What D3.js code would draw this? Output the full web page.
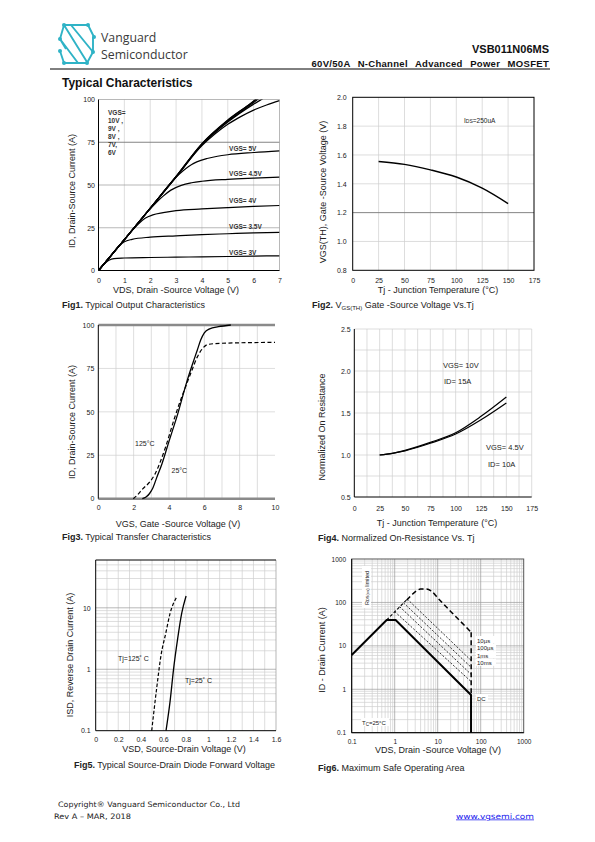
<!DOCTYPE html>
<html><head><meta charset="utf-8">
<script src="https://cdn.jsdelivr.net/npm/d3@7"></script>
<style>body{margin:0;background:#fff}svg{display:block}text{font-family:Arial,"Liberation Sans",sans-serif;fill:#222}</style>
</head><body><svg id="c" width="595" height="842"></svg>
<script>
// ---------- DATA ----------
// Fig1 output characteristics: [VDS, ID]
const out10V = [[0,0],[1,18],[2,36.5],[3,55],[4,74.2],[5,88],[6,99.2],[6.1,100.5]];
const out9V  = [[0,0],[1,18],[2,36.5],[3,55],[4,74],[5,87.7],[6,98.8],[6.15,100.5]];
const out8V  = [[0,0],[1,18],[2,36.4],[3,54.8],[4,73.8],[5,87.3],[6,98.2],[6.2,100.5]];
const out7V  = [[0,0],[1,18],[2,36.3],[3,54.6],[4,73.5],[5,86.8],[6,97.3],[6.35,100.5]];
const out6V  = [[0,0],[1,18],[2,36.3],[3,54.6],[4,73],[4.5,79.8],[5,85.5],[5.5,90],[6,93.8],[6.5,96.8],[7,99.3]];
const out5V  = [[0,0],[1,18],[2,36.3],[3,54.6],[3.5,61],[3.8,63.5],[4.2,65.5],[4.6,66.8],[5,67.7],[6,69],[7,70]];
const out45V = [[0,0],[1,18],[2,36],[2.5,43.5],[2.8,47],[3.2,49.8],[3.6,51.3],[4,52.2],[5,53.3],[6,54],[7,54.6]];
const out4V  = [[0,0],[1,18],[1.5,26.5],[1.8,30.5],[2.1,32.5],[2.5,33.8],[3,35],[4,36],[5,36.8],[6,37.5],[7,38]];
const out35V = [[0,0],[0.5,9],[0.8,14.5],[1,16.8],[1.3,18.2],[2,19.5],[3,20.3],[4,21],[5,21.5],[6,22],[7,22.3]];
const out3V  = [[0,0],[0.2,3.6],[0.4,6],[0.6,7],[1,7.3],[2,7.6],[3,7.8],[4,8],[5,8.2],[6,8.4],[7,8.6]];
const outCurves = [out10V,out9V,out8V,out7V,out6V,out5V,out45V,out4V,out35V,out3V];
const outLabels = ["VGS= 5V","VGS= 4.5V","VGS= 4V","VGS= 3.5V","VGS= 3V"];
const outLabelVals = [71.3,57,41.1,26,10.6];
const outHiLabels = ["VGS=","10V ,","9V ,","8V ,","7V,","6V"];
const xTicks1 = [0,1,2,3,4,5,6,7];
const yTicks1 = [0,25,50,75,100];

// Fig2 VGS(th) vs Tj
const vthData = [[25,1.555],[50,1.535],[75,1.497],[100,1.447],[125,1.37],[150,1.263]];
const xTicks2 = [0,25,50,75,100,125,150,175];
const yTicks2 = [0.8,1.0,1.2,1.4,1.6,1.8,2.0];

// Fig3 transfer characteristics: [VGS, ID]
const tr25  = [[2.49,0],[2.7,1],[2.9,3],[3.1,6.5],[3.3,12],[3.6,20],[4,33],[4.5,49],[5,67],[5.3,76.5],[5.6,85.5],[5.8,91.5],[6,95.5],[6.3,97.8],[6.8,99],[7.5,100]];
const tr125 = [[1.98,0],[2.2,2],[2.5,5.5],[2.9,9.5],[3.2,14],[3.5,21],[3.8,29.5],[4.3,46],[4.7,58],[5,66],[5.3,74],[5.6,81.5],[5.9,86.5],[6.2,88.8],[7,89.5],[10,90]];
const xTicks3 = [0,2,4,6,8,10];
const yTicks3 = [0,25,50,75,100];

// Fig4 normalized RDS(on) vs Tj
const rds10V  = [[25,1.0],[37.5,1.02],[50,1.055],[75,1.15],[100,1.265],[125,1.46],[150,1.69]];
const rds45V  = [[25,1.0],[37.5,1.02],[50,1.05],[75,1.14],[100,1.25],[125,1.42],[150,1.62]];
const xTicks4 = [0,25,50,75,100,125,150,175];
const yTicks4 = [0.5,1.0,1.5,2.0,2.5];

// Fig5 diode forward: [VSD, ISD]
const diode25  = [[0.624,0.1],[0.66,0.3],[0.69,0.97],[0.728,3.2],[0.763,8.1],[0.802,15.6]];
const diode125 = [[0.497,0.1],[0.541,0.49],[0.58,1.7],[0.621,3.8],[0.66,8.1],[0.719,15]];
const xTicks5 = [0,0.2,0.4,0.6,0.8,1,1.2,1.4,1.6];
const yTicks5 = [0.1,1,10];

// Fig6 SOA: [VDS, ID]
const soaDC   = [[0.1,6.15],[0.65,39.5],[1.05,39.5],[59.6,0.74],[59.6,0.1]];
const soaRds  = [[0.65,39.5],[1.95,118]];
const soaPeak = [[1.9,113],[2.5,150],[3.2,185],[4,203],[5.5,203],[7,185],[10,127],[20,62],[40,31],[60,20.5],[60,0.74]];
const soaP1 = [[1.0,61.5],[60,1.5]];
const soaP2 = [[1.3,80],[60,2.2]];
const soaP3 = [[1.6,98],[60,3.2]];
const soaP4 = [[1.95,120],[60,4.6]];
const soaLabels = ["10µs","100µs","1ms","10ms"];
const xTicks6 = [0.1,1,10,100,1000];
const yTicks6 = [0.1,1,10,100,1000];

// ---------- DRAW ----------
const svg = d3.select('#c');
const LIGHT = '#cfcfcf', MID = '#9a9a9a';

function txt(g, x, y, s, o={}) {
  const t = g.append('text').attr('x',x).attr('y',y).text(s)
    .attr('font-size', o.size||8);
  if (o.anchor) t.attr('text-anchor', o.anchor);
  if (o.weight) t.attr('font-weight', o.weight);
  if (o.fill) t.style('fill', o.fill);
  if (o.family) t.style('font-family', o.family);
  return t;
}
function vline(g,x,y0,y1,c,w=0.7){g.append('line').attr('x1',x).attr('x2',x).attr('y1',y0).attr('y2',y1).attr('stroke',c).attr('stroke-width',w);}
function hline(g,y,x0,x1,c,w=0.7){g.append('line').attr('y1',y).attr('y2',y).attr('x1',x0).attr('x2',x1).attr('stroke',c).attr('stroke-width',w);}
function axes(g, x, y, xt, yt, xfmt, yfmt, xpad, ypad, fs) {
  const ax = g.append('g').attr('transform',`translate(0,${y.range()[0]})`)
    .call(d3.axisBottom(x).tickValues(xt).tickSize(0).tickPadding(xpad).tickFormat(xfmt));
  ax.select('.domain').remove();
  ax.selectAll('text').attr('font-size',fs).attr('font-family','Arial, Liberation Sans, sans-serif').style('fill','#222');
  const ay = g.append('g').attr('transform',`translate(${x.range()[0]},0)`)
    .call(d3.axisLeft(y).tickValues(yt).tickSize(0).tickPadding(ypad).tickFormat(yfmt));
  ay.select('.domain').remove();
  ay.selectAll('text').attr('font-size',fs).attr('font-family','Arial, Liberation Sans, sans-serif').style('fill','#222');
}
function ylabel(g, x, y, s, fs=9){ g.append('text').attr('transform',`translate(${x},${y}) rotate(-90)`).attr('text-anchor','middle').attr('font-size',fs).text(s); }
function caption(g, x, y, bold, rest){
  const t = g.append('text').attr('x',x).attr('y',y).attr('font-size',9);
  t.append('tspan').attr('font-weight','bold').text(bold);
  t.append('tspan').text(rest);
  return t;
}
function clip(id, x, y){
  svg.append('clipPath').attr('id',id).append('rect')
    .attr('x',x.range()[0]).attr('y',y.range()[1]).attr('width',x.range()[1]-x.range()[0]).attr('height',y.range()[0]-y.range()[1]);
}

// ----- Header -----
const hd = svg.append('g');
const logoC = '#2fb3c6';
const lg = hd.append('g').attr('fill','none').attr('stroke',logoC).attr('stroke-width',1.9).attr('stroke-linejoin','round');
lg.append('path').attr('d','M64,25 H88 L94,37 M64,25 L60,39 L66,49 M64,25 L87,62 M71,25 L93,52 M60,39 L78,63 M60,51 L64,63 H87 L93,52 V37');
[[64,25],[88,25],[94,37],[60,39],[60,51],[64,63],[87,63],[93,52]].forEach(p=>{
  hd.append('circle').attr('cx',p[0]).attr('cy',p[1]).attr('r',2).attr('fill',logoC);
});
txt(hd,101,41.5,'Vanguard',{size:12.3,family:'"Open Sans", Arial, sans-serif',fill:'#3a3a3a'});
txt(hd,101,58.5,'Semiconductor',{size:12.3,family:'"Open Sans", Arial, sans-serif',fill:'#3a3a3a'});
txt(hd,549,53,'VSB011N06MS',{size:11,weight:'bold',anchor:'end',fill:'#111'});
txt(hd,549,66.5,'60V/50A N-Channel Advanced Power MOSFET',{size:9.5,weight:'bold',anchor:'end',fill:'#111'})
  .style('word-spacing','4.5px').style('letter-spacing','0.3px');
hline(hd,69,50,550,'#000',1);
txt(hd,62,86.5,'Typical Characteristics',{size:12,weight:'bold',fill:'#111'});

// ----- Fig1 -----
{
  const g = svg.append('g');
  const x = d3.scaleLinear([0,7],[98.5,279.5]);
  const y = d3.scaleLinear([0,100],[270.5,99.5]);
  clip('c1',x,y);
  xTicks1.slice(1,-1).forEach(v=>vline(g,x(v),y(0),y(100),LIGHT));
  [25,50].forEach(v=>hline(g,y(v),x(0),x(7),MID));
  hline(g,y(75),x(0),x(7),'#777',0.9);
  hline(g,y(100),x(0),x(7),MID); vline(g,x(7),y(0),y(100),MID);
  vline(g,x(0),y(0),y(100),'#000',1); hline(g,y(0),x(0),x(7),'#000',1);
  const line = d3.line().x(d=>x(d[0])).y(d=>y(d[1])).curve(d3.curveMonotoneX);
  g.append('g').attr('clip-path','url(#c1)').selectAll('path').data(outCurves).join('path')
    .attr('d',line).attr('fill','none').attr('stroke','#000').attr('stroke-width',1.2);
  axes(g,x,y,xTicks1,yTicks1,d3.format('d'),d3.format('d'),7.5,3.5,7);
  outLabels.forEach((s,i)=>txt(g,x(5.05),y(outLabelVals[i])+2.5,s,{size:6.5,weight:'bold',fill:'#333'}));
  outHiLabels.forEach((s,i)=>txt(g,108,115+i*8,s,{size:6.5,weight:'bold',fill:'#333'}));
  txt(g,176,293,'VDS, Drain -Source Voltage (V)',{size:9,anchor:'middle'});
  ylabel(g,75,191,'ID, Drain-Source Current (A)');
  caption(g,62,307.5,'Fig1.',' Typical Output Characteristics');
}

// ----- Fig2 -----
{
  const g = svg.append('g');
  const x = d3.scaleLinear([0,175],[352.7,534]);
  const y = d3.scaleLinear([0.8,2.0],[270.3,97.3]);
  xTicks2.slice(1,-1).forEach(v=>vline(g,x(v),y(0.8),y(2.0),LIGHT));
  [1.0,1.4,1.6,1.8].forEach(v=>hline(g,y(v),x(0),x(175),LIGHT));
  hline(g,y(1.2),x(0),x(175),'#777',0.9);
  g.append('rect').attr('x',x(0)).attr('y',y(2)).attr('width',x(175)-x(0)).attr('height',y(0.8)-y(2))
    .attr('fill','none').attr('stroke','#000').attr('stroke-width',1);
  const line = d3.line().x(d=>x(d[0])).y(d=>y(d[1])).curve(d3.curveMonotoneX);
  g.append('path').datum(vthData).attr('d',line).attr('fill','none').attr('stroke','#000').attr('stroke-width',1.4);
  axes(g,x,y,xTicks2,yTicks2,d3.format('d'),d3.format('.1f'),7.7,6,7);
  const t = g.append('text').attr('x',464).attr('y',123).attr('font-size',6.5);
  t.append('tspan').text('I'); t.append('tspan').attr('font-size',5).text('DS'); t.append('tspan').text('=250uA');
  txt(g,438,293,'Tj - Junction Temperature (°C)',{size:9,anchor:'middle'});
  ylabel(g,326,192,'VGS(TH), Gate -Source Voltage (V)');
  const c = g.append('text').attr('x',312).attr('y',308).attr('font-size',9);
  c.append('tspan').attr('font-weight','bold').text('Fig2.');
  c.append('tspan').text(' V');
  c.append('tspan').attr('font-size',6).attr('dy',1.5).text('GS(TH)');
  c.append('tspan').attr('dy',-1.5).text(' Gate -Source Voltage Vs.Tj');
}

// ----- Fig3 -----
{
  const g = svg.append('g');
  const x = d3.scaleLinear([0,10],[98.3,275]);
  const y = d3.scaleLinear([0,100],[498.7,325]);
  d3.range(1,10).forEach(v=>vline(g,x(v),y(0),y(100),LIGHT));
  [25,50,75].forEach(v=>hline(g,y(v),x(0),x(10),LIGHT));
  hline(g,y(100),x(0),x(10),'#8a8a8a',2.5);
  hline(g,y(0),x(0),x(10),'#8a8a8a',2.5);
  vline(g,x(0),y(0),y(100),'#000',1);
  const line = d3.line().x(d=>x(d[0])).y(d=>y(d[1])).curve(d3.curveMonotoneX);
  g.append('path').datum(tr25).attr('d',line).attr('fill','none').attr('stroke','#000').attr('stroke-width',1.3);
  g.append('path').datum(tr125).attr('d',line).attr('fill','none').attr('stroke','#000').attr('stroke-width',1.2).attr('stroke-dasharray','4,2.5');
  axes(g,x,y,xTicks3,yTicks3,d3.format('d'),d3.format('d'),6.3,4,7);
  txt(g,135,446,'125°C',{size:7});
  txt(g,171.5,472.5,'25°C',{size:7});
  txt(g,178,527,'VGS, Gate -Source Voltage (V)',{size:9,anchor:'middle'});
  ylabel(g,75,422,'ID, Drain-Source Current (A)');
  caption(g,62,540,'Fig3.',' Typical Transfer Characteristics');
}

// ----- Fig4 -----
{
  const g = svg.append('g');
  const x = d3.scaleLinear([0,175],[354.3,531.7]);
  const y = d3.scaleLinear([0.5,2.5],[497,329]);
  d3.range(1,14).forEach(i=>vline(g,x(i*12.5),y(0.5),y(2.5),LIGHT));
  d3.range(1,8).forEach(i=>hline(g,y(0.5+i*0.25),x(0),x(175),LIGHT));
  hline(g,y(2.5),x(0),x(175),LIGHT); vline(g,x(175),y(0.5),y(2.5),LIGHT);
  vline(g,x(0),y(0.5),y(2.5),'#000',1); hline(g,y(0.5),x(0),x(175),'#000',1);
  const line = d3.line().x(d=>x(d[0])).y(d=>y(d[1])).curve(d3.curveMonotoneX);
  [rds10V,rds45V].forEach(d=>g.append('path').datum(d).attr('d',line).attr('fill','none').attr('stroke','#000').attr('stroke-width',1.2));
  axes(g,x,y,xTicks4,yTicks4,d3.format('d'),d3.format('.1f'),9,3.6,7);
  txt(g,443,367.5,'VGS= 10V',{size:7.5});
  txt(g,444,384,'ID= 15A',{size:7.5});
  txt(g,486,450,'VGS= 4.5V',{size:7.5});
  txt(g,488,466.5,'ID= 10A',{size:7.5});
  txt(g,437,526,'Tj - Junction Temperature (°C)',{size:9,anchor:'middle'});
  ylabel(g,325,427,'Normalized On  Resistance');
  caption(g,318,540.5,'Fig4.',' Normalized On-Resistance Vs. Tj');
}

// ----- Fig5 -----
{
  const g = svg.append('g');
  const x = d3.scaleLinear([0,1.6],[95.7,276]);
  const y = d3.scaleLog([0.1,60],[730.7,560]);
  d3.range(1,16).forEach(i=>vline(g,x(i*0.1),y(0.1),y(60),LIGHT));
  const minors = [];
  [0.1,1,10].forEach(dec=>d3.range(2,10).forEach(k=>{ if (k*dec<60) minors.push(k*dec); }));
  minors.forEach(v=>hline(g,y(v),x(0),x(1.6),LIGHT));
  [1,10].forEach(v=>hline(g,y(v),x(0),x(1.6),MID));
  vline(g,x(1.6),y(0.1),y(60),MID);
  hline(g,y(60),x(0),x(1.6),'#000',1);
  vline(g,x(0),y(0.1),y(60),'#000',1); hline(g,y(0.1),x(0),x(1.6),'#000',1);
  const line = d3.line().x(d=>x(d[0])).y(d=>y(d[1])).curve(d3.curveMonotoneX);
  g.append('path').datum(diode25).attr('d',line).attr('fill','none').attr('stroke','#000').attr('stroke-width',1.3);
  g.append('path').datum(diode125).attr('d',line).attr('fill','none').attr('stroke','#000').attr('stroke-width',1.2).attr('stroke-dasharray','3.5,2');
  axes(g,x,y,xTicks5,yTicks5,d3.format('~g'),d3.format('~g'),6.3,5,7);
  txt(g,118,661,'Tj=125˚ C',{size:7});
  txt(g,185,683,'Tj=25˚ C',{size:7});
  txt(g,184,752,'VSD, Source-Drain Voltage (V)',{size:9,anchor:'middle'});
  ylabel(g,73,655,'ISD, Reverse Drain Current (A)');
  caption(g,74,767.5,'Fig5.',' Typical Source-Drain Diode Forward Voltage');
}

// ----- Fig6 -----
{
  const g = svg.append('g');
  const x = d3.scaleLog([0.1,1000],[351.7,523.7]);
  const y = d3.scaleLog([0.1,1000],[732.7,559]);
  [0.1,1,10,100].forEach(dec=>d3.range(2,10).forEach(k=>{
    vline(g,x(k*dec),y(0.1),y(1000),LIGHT);
    hline(g,y(k*dec),x(0.1),x(1000),LIGHT);
  }));
  [1,10,100].forEach(v=>{ vline(g,x(v),y(0.1),y(1000),MID); hline(g,y(v),x(0.1),x(1000),MID); });
  g.append('rect').attr('x',x(0.1)).attr('y',y(1000)).attr('width',x(1000)-x(0.1)).attr('height',y(0.1)-y(1000))
    .attr('fill','none').attr('stroke','#555').attr('stroke-width',1);
  vline(g,x(0.1),y(0.1),y(1000),'#000',1); hline(g,y(0.1),x(0.1),x(1000),'#000',1);
  const line = d3.line().x(d=>x(d[0])).y(d=>y(d[1]));
  const curve = d3.line().x(d=>x(d[0])).y(d=>y(d[1])).curve(d3.curveMonotoneX);
  [soaP1,soaP2,soaP3,soaP4].forEach(d=>g.append('path').datum(d).attr('d',line).attr('fill','none')
    .attr('stroke','#000').attr('stroke-width',0.8).attr('stroke-dasharray','2,1.6'));
  g.append('path').datum(soaRds).attr('d',line).attr('fill','none').attr('stroke','#000').attr('stroke-width',1.1).attr('stroke-dasharray','3,2');
  g.append('path').datum(soaPeak.slice(0,-1)).attr('d',curve).attr('fill','none').attr('stroke','#000').attr('stroke-width',1.5).attr('stroke-dasharray','5,3');
  g.append('path').datum(soaPeak.slice(-2)).attr('d',line).attr('fill','none').attr('stroke','#000').attr('stroke-width',1.5).attr('stroke-dasharray','5,3');
  g.append('path').datum(soaDC).attr('d',line).attr('fill','none').attr('stroke','#000').attr('stroke-width',2);
  axes(g,x,y,xTicks6,yTicks6,d3.format('~g'),d3.format('~g'),6.6,5.7,6.5);
  soaLabels.forEach((s,i)=>g.append('rect').attr('x',476).attr('y',636+i*7.6).attr('width',20).attr('height',7).attr('fill','#fff'));
  soaLabels.forEach((s,i)=>txt(g,477,642.5+i*7.6,s,{size:6}));
  g.append('rect').attr('x',476).attr('y',694).attr('width',12).attr('height',7).attr('fill','#fff');
  txt(g,477,700.5,'DC',{size:6});
  g.append('rect').attr('x',362).attr('y',566).attr('width',9).attr('height',42).attr('fill','#fff');
  const r = g.append('text').attr('transform','translate(369,605) rotate(-90)').attr('font-size',5.5);
  r.append('tspan').text('R'); r.append('tspan').attr('font-size',4).text('DS(on)'); r.append('tspan').text(' limited');
  g.append('rect').attr('x',361).attr('y',718).attr('width',28).attr('height',8).attr('fill','#fff');
  const tc = g.append('text').attr('x',362).attr('y',724.5).attr('font-size',6);
  tc.append('tspan').text('T'); tc.append('tspan').attr('font-size',4.5).attr('dy',1).text('C'); tc.append('tspan').attr('dy',-1).text('=25°C');
  txt(g,438,753,'VDS, Drain -Source Voltage (V)',{size:9,anchor:'middle'});
  ylabel(g,325,650,'ID - Drain Current (A)');
  caption(g,318,770.5,'Fig6.',' Maximum Safe Operating Area');
}

// ----- Footer -----
{
  const g = svg.append('g');
  txt(g,58,807,'Copyright® Vanguard Semiconductor Co., Ltd',{size:7.5,family:'"DejaVu Sans", Verdana, sans-serif'}).attr('textLength',182).attr('lengthAdjust','spacingAndGlyphs');
  txt(g,54,818.5,'Rev A – MAR, 2018',{size:7.5,family:'"DejaVu Sans", Verdana, sans-serif'}).attr('textLength',77).attr('lengthAdjust','spacingAndGlyphs');
  txt(g,456,818.5,'www.vgsemi.com',{size:7.5,family:'"DejaVu Sans", Verdana, sans-serif',fill:'#1a1aee'})
    .attr('textLength',78).attr('lengthAdjust','spacingAndGlyphs').attr('text-decoration','underline');
}
</script></body></html>
